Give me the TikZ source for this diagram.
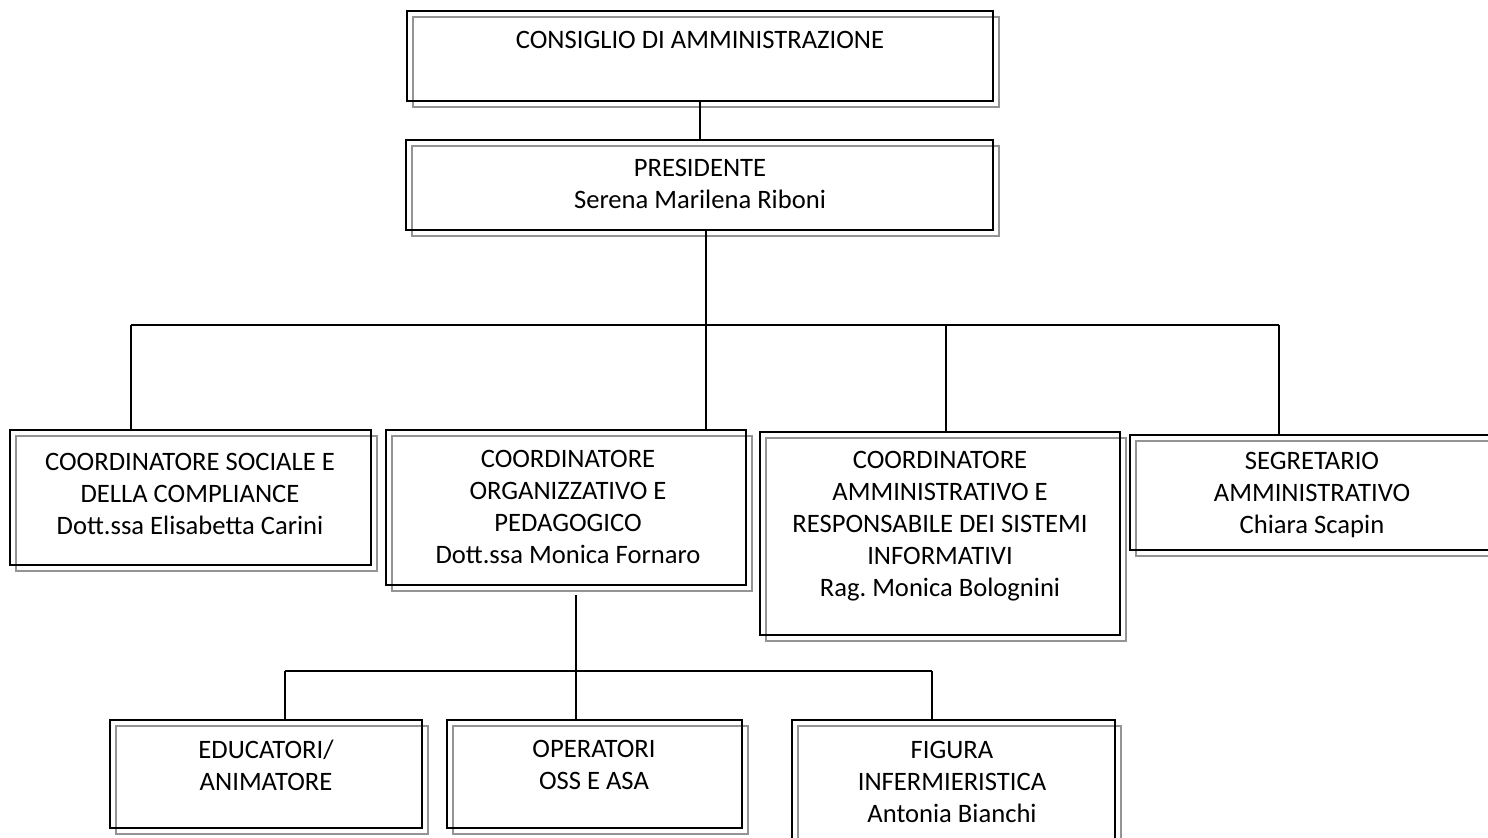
\documentclass[tikz,border=0pt]{standalone}
\usepackage{fontspec}
\setmainfont{Carlito}
\frenchspacing
\usetikzlibrary{fit,shadows}
\tikzset{
  orgbox/.style={draw=black, line width=1pt, inner sep=0pt, fill=none,
    copy shadow={shadow xshift=3pt, shadow yshift=-3pt, draw=black!42, line width=1.2pt, fill=none}},
  orgtxt/.style={align=center, inner sep=0pt, font=\fontsize{13.3}{16}\selectfont},
  conn/.style={draw=black, line width=0.9pt}
}
\begin{document}
\begin{tikzpicture}[x=0.5pt,y=-0.5pt]
\useasboundingbox (0,0) rectangle (1488,838);
\clip (0,0) rectangle (1488,838);
% boxes
\node[orgbox, fit={(407,11) (993,101)}] (cda) {};
\node[orgbox, fit={(406,140) (993,230)}] (pres) {};
\node[orgbox, fit={(10,430) (371,565)}] (csc) {};
\node[orgbox, fit={(386,430) (746,585)}] (cop) {};
\node[orgbox, fit={(760,432) (1120,635)}] (cam) {};
\node[orgbox, fit={(1130,435) (1500,550)}] (seg) {};
\node[orgbox, fit={(110,720) (422,828)}] (edu) {};
\node[orgbox, fit={(447,720) (742,828)}] (ope) {};
\node[orgbox, fit={(792,720) (1115,850)}] (inf) {};
% texts
\node[orgtxt] (cdat) at (700,40) {CONSIGLIO DI AMMINISTRAZIONE};
\node[orgtxt] (prest) at (700,184) {PRESIDENTE\\Serena Marilena Riboni};
\node[orgtxt] (csct) at (190,493.5) {COORDINATORE SOCIALE E\\DELLA COMPLIANCE\\Dott.ssa Elisabetta Carini};
\node[orgtxt] (copt) at (568,507) {COORDINATORE\\ORGANIZZATIVO E\\PEDAGOGICO\\Dott.ssa Monica Fornaro};
\node[orgtxt] (camt) at (940,526.5) {COORDINATORE\\AMMINISTRATIVO E\\RESPONSABILE DEI SISTEMI\\INFORMATIVI\\Rag. Monica Bolognini};
\node[orgtxt] (segt) at (1312,495.5) {SEGRETARIO\\AMMINISTRATIVO\\Chiara Scapin};
\node[orgtxt] (edut) at (266,765) {EDUCATORI/\\ANIMATORE};
\node[orgtxt] (opet) at (594,765) {OPERATORI\\OSS E ASA};
\node[orgtxt] (inft) at (952,781.5) {FIGURA\\INFERMIERISTICA\\Antonia Bianchi};
% connectors
\coordinate (c1) at (700,120);
\draw[conn] (cda.south -| c1) -- (pres.north -| c1);
\coordinate (bus) at (706,325);
\coordinate (busL) at (131,325);
\coordinate (busR) at (1279,325);
\coordinate (dC) at (946,325);
\draw[conn] (pres.south -| bus) -- (bus);
\draw[conn] (busL) -- (busR);
\draw[conn] (busL) -- (csc.north -| busL);
\draw[conn] (bus) -- (cop.north -| bus);
\draw[conn] (dC) -- (cam.north -| dC);
\draw[conn] (busR) -- (seg.north -| busR);
\coordinate (sub) at (576,671);
\coordinate (subL) at (285,671);
\coordinate (subR) at (932,671);
\coordinate (subT) at (576,595);
\draw[conn] (subT) -- (ope.north -| sub);
\draw[conn] (subL) -- (subR);
\draw[conn] (subL) -- (edu.north -| subL);
\draw[conn] (subR) -- (inf.north -| subR);
\end{tikzpicture}
\end{document}
